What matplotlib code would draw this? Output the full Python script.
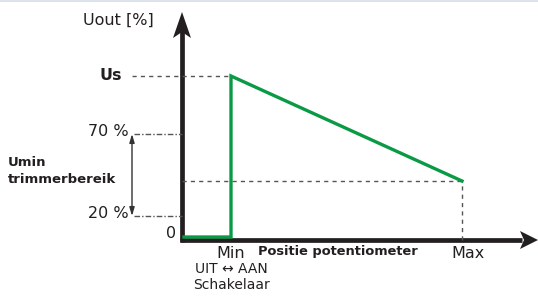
"""Schematic: Uout versus potentiometer position, with Umin trimmer range."""
import matplotlib
matplotlib.use("Agg")
import matplotlib.pyplot as plt
from matplotlib.patches import Polygon

# schematic levels (chart units, origin at the axes crossing)
pos_names = ["Min", "Max"]
pos_values = [49, 280]
level_names = ["0", "20 %", "70 %", "Us"]
level_values = [0, 24, 106, 164]
umin_level = 59          # example trimmer setting
off_level = 3            # output while switched off

# output curve: off up to Min, jump to Us, then falling to Umin at Max
curve_x = [2, pos_values[0], pos_values[0], pos_values[1]]
curve_y = [off_level, off_level, level_values[3], umin_level]

GREEN = "#0a9a45"
INK = "#231f20"
DASH = "#555555"

fig = plt.figure(figsize=(5.38, 2.96), dpi=100)
ax = fig.add_axes([0, 0, 1, 1])
ax.set_xlim(-182, 356)
ax.set_ylim(-56, 240)
ax.axis("off")

# top border line
ax.plot([-182, 356], [239.3, 239.3], color="#dde3ec", lw=1.5)

# axes lines with stealth-like arrow heads
ax.plot([0, 0], [-2, 212], color=INK, lw=3.4, solid_capstyle="butt")
ax.plot([-2, 340], [0, 0], color=INK, lw=3.4, solid_capstyle="butt")
ax.add_patch(Polygon([(0, 228), (9, 202), (0, 208), (-9, 202)], closed=True,
                     color=INK, lw=0))
ax.add_patch(Polygon([(356, 0), (338, 9), (342, 0), (338, -9)], closed=True,
                     color=INK, lw=0))

# helper lines
ax.plot([-50, pos_values[0]], [level_values[3]] * 2, ls=(0, (3, 3)), color=DASH, lw=1)
ax.plot([0, pos_values[1]], [umin_level] * 2, ls=(0, (3, 3)), color=DASH, lw=1)
ax.plot([pos_values[1]] * 2, [0, umin_level], ls=(0, (3, 3)), color=DASH, lw=1)
for lv in level_values[1:3]:
    ax.plot([-48, 0], [lv, lv], ls=(0, (4, 1.5, 1, 1.5)), color=DASH, lw=1)
ax.annotate("", xy=(-50, level_values[2]), xytext=(-50, level_values[1]),
            arrowprops=dict(arrowstyle="<|-|>,head_length=0.5,head_width=0.15",
                            color="#333333", lw=1, shrinkA=0, shrinkB=0))

# output curve
ax.plot(curve_x, curve_y, color=GREEN, lw=2.4, solid_joinstyle="miter")

fs = 11.5
ax.text(-64, 220, "Uout [%]", fontsize=fs, ha="center", va="center", color=INK)
ax.text(-60, level_values[3] + 1, level_names[3], fontsize=fs, fontweight="bold",
        ha="right", va="center", color=INK)
for name, lv in zip(level_names[1:3], level_values[1:3]):
    ax.text(-53, lv + 2, name, fontsize=fs, ha="right", va="center", color=INK)
ax.text(-6, 6, level_names[0], fontsize=fs, ha="right", va="center", color=INK)
ax.text(-174, 69, "Umin\ntrimmerbereik", fontsize=9.5, fontweight="bold",
        ha="left", va="center", color=INK, linespacing=1.45)

ax.text(pos_values[0], -13, pos_names[0], fontsize=fs, ha="center", va="center", color=INK)
ax.text(pos_values[1] - 11, -13, pos_names[1], fontsize=fs, ha="left", va="center", color=INK)
ax.text(76, -12, "Positie potentiometer", fontsize=9.4, fontweight="bold",
        ha="left", va="center", color=INK)
ax.text(pos_values[0], -29, "UIT \u2194 AAN", fontsize=10, ha="center",
        va="center", color=INK)
ax.text(pos_values[0], -45, "Schakelaar", fontsize=10, ha="center",
        va="center", color=INK)

fig.savefig("out.png", dpi=100)
